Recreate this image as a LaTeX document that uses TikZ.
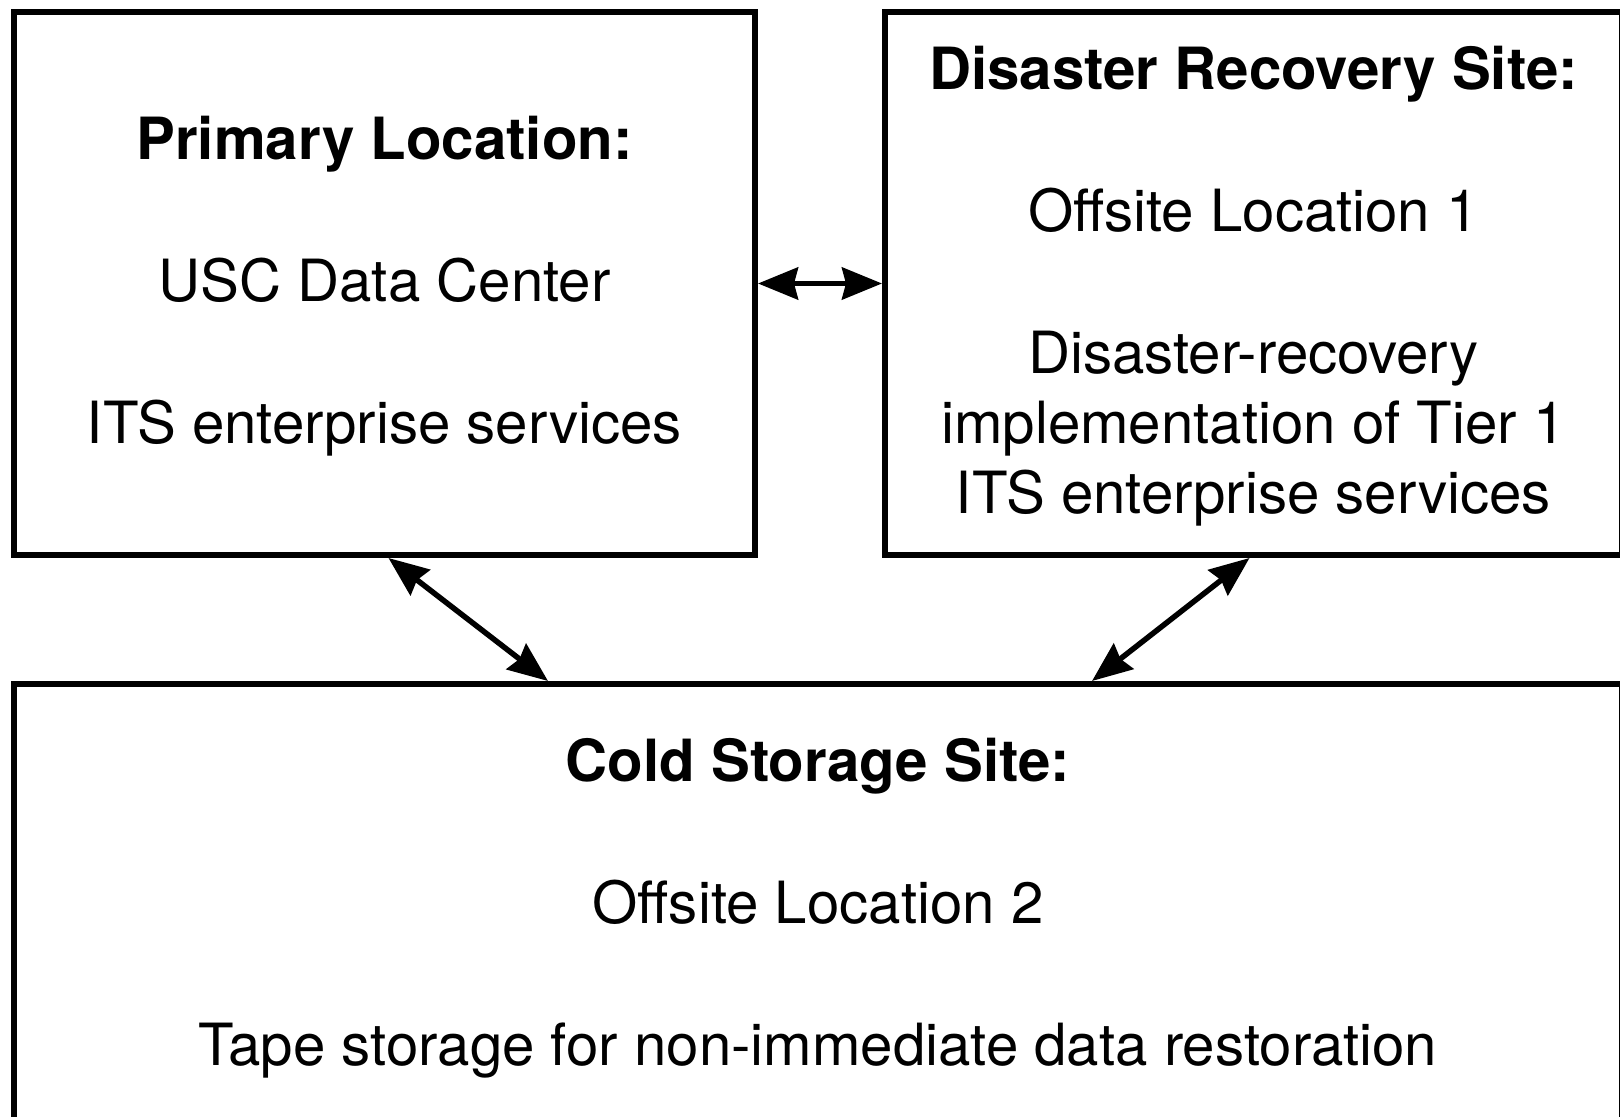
\documentclass[tikz,border=0pt]{standalone}
\usepackage{fontspec}
\setmainfont{TeX Gyre Heros}
\usetikzlibrary{positioning,arrows.meta}
\newcommand{\sitetitle}[1]{\rule{0pt}{24pt}\textbf{#1}}

\begin{document}
\begin{tikzpicture}[auto, node distance=62pt,
  >={Stealth[length=20pt,width=16pt,inset=2pt]},
  font=\fontsize{29.1}{35}\selectfont]
\tikzset{block/.style = {draw, rectangle, line width=3pt, align=center,
  inner sep=0pt}}
\tikzset{link/.style = {<->, line width=2.75pt}}
\useasboundingbox (0,0) rectangle (810pt,-558.5pt);

  \node[block, minimum width=370.5pt, minimum height=271.5pt] at (192.25pt,-141.75pt)
    (primary){\sitetitle{Primary Location:}\\[36pt]USC Data Center\\[36pt]ITS enterprise services};
  \node[block, minimum width=368.5pt, minimum height=271.5pt, right=62pt of primary]
    (recovery){\sitetitle{Disaster Recovery Site:}\\[36pt]Offsite Location 1\\[36pt]Disaster-recovery\\implementation of Tier 1\\ITS enterprise services};

  \node[block, minimum width=804pt, minimum height=222pt,
    below=61.5pt of primary.south west, anchor=north west]
    (cold){\sitetitle{Cold Storage Site:}\\[36pt]Offsite Location 2\\[36pt]Tape storage for non-immediate data restoration};

  \draw[link] (primary) -- (recovery);
  \draw[link] ([xshift=2pt]primary.south) -- ([xshift=-135pt]cold.north);
  \draw[link] ([xshift=-2pt]recovery.south) -- ([xshift=137pt]cold.north);
\end{tikzpicture}
\end{document}
